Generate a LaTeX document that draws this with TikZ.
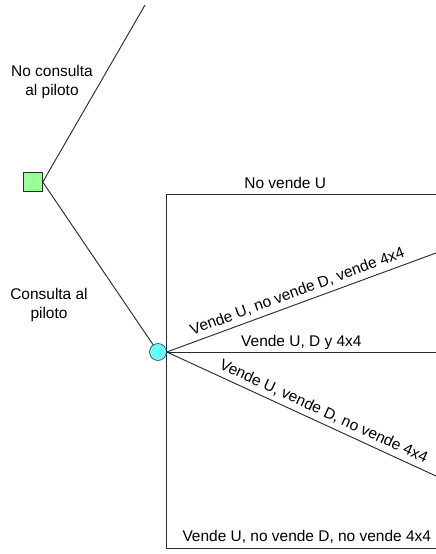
\documentclass[tikz,border=0pt]{standalone}
\usepackage{fontspec}
\setmainfont{Liberation Sans}
\usetikzlibrary{positioning,calc}
\definecolor{decfill}{HTML}{99FF99}
\definecolor{chfill}{HTML}{66FFFF}
\definecolor{edgeline}{HTML}{2B2B2B}
\tikzset{
  decision/.style={draw=edgeline, fill=decfill, minimum size=14.25pt, inner sep=0pt},
  chance/.style={circle, draw=edgeline, fill=chfill, minimum size=12.75pt, inner sep=0pt},
  branch/.style={draw=edgeline, line width=0.7pt},
  lbl/.style={font=\fontsize{11.6}{13.6}\selectfont, align=center},
}
\begin{document}
\begin{tikzpicture}[x=0.75pt, y=-0.75pt]
  \useasboundingbox (0,0) rectangle (436,554);
  % decision
  \node[decision] (dec) at (33,182) {};
  \node[chance] (cha) at (158,352) {};
  \coordinate (nocons) at (145,5);
  \draw[branch] (dec.east) -- (nocons);
  \draw[branch] (dec.east) -- (cha);
  \node[lbl] (lnocons) at (52,82) {No consulta\\al piloto};
  \node[lbl] (lcons) at (49,305) {Consulta al\\piloto};
  % outcomes
  \coordinate (o1) at (436,194);
  \coordinate (o2) at (436,253);
  \coordinate (o3) at (436,352);
  \coordinate (o4) at (436,476);
  \coordinate (o5) at (436,548);
  \draw[branch] (cha.east) |- (o1) node[lbl, above, pos=0.72] {No vende U};
  \draw[branch] (cha.east) -- (o2) node[lbl, above, sloped, pos=0.5] {Vende U, no vende D, vende 4x4};
  \draw[branch] (cha.east) -- (o3) node[lbl, above, inner sep=1pt, pos=0.5] {Vende U, D y 4x4};
  \draw[branch] (cha.east) -- (o4) node[lbl, above, sloped, pos=0.565] {Vende U, vende D, no vende 4x4};
  \draw[branch] (cha.east) |- (o5) node[lbl, above, pos=0.76] {Vende U, no vende D, no vende 4x4};
\end{tikzpicture}
\end{document}
